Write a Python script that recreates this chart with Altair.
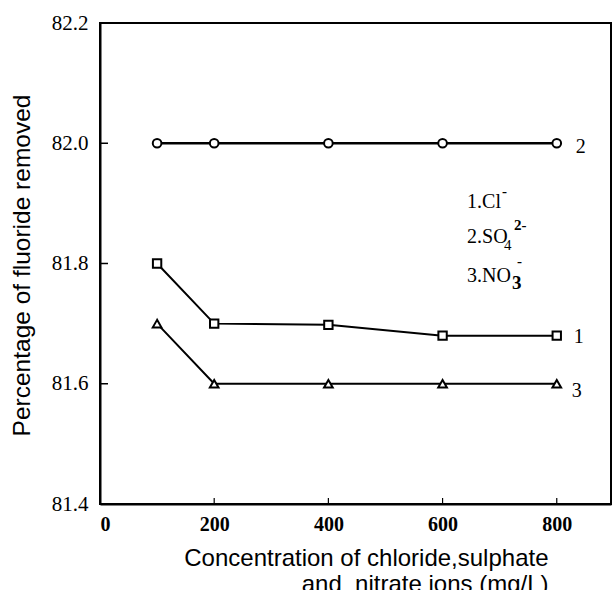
import altair as alt
import pandas as pd

# Fluoride removal (%) versus co-ion concentration (mg/L)
conc = [100, 200, 400, 600, 800]
chloride = [81.80, 81.70, 81.698, 81.68, 81.68]   # curve 1, squares
sulphate = [82.00, 82.00, 82.00, 82.00, 82.00]    # curve 2, circles
nitrate = [81.70, 81.60, 81.60, 81.60, 81.60]     # curve 3, triangles

x_ticks = [0, 200, 400, 600, 800]
y_ticks = [81.4, 81.6, 81.8, 82.0, 82.2]

# in-plot key: anchor (data units) plus base text, subscript and superscript
key_x = 643
key_y = [81.892, 81.834, 81.769]
key_base = ["1.Cl", "2.SO", "3.NO"]
key_sub = ["", "4", "3"]
key_sup = ["-", "2-", "-"]

W, H = 511, 481
SERIF = "Liberation Serif"
SANS = "Liberation Sans"

xscale = alt.Scale(domain=[0, 895], nice=False, zero=False)
yscale = alt.Scale(domain=[81.4, 82.2], nice=False, zero=False)

x_axis = alt.Axis(
    values=x_ticks, format="d", grid=False, tickSize=0,
    labelFont=SERIF, labelFontSize=20, labelFontWeight="bold", labelColor="black",
    labelPadding=10, domainColor="black", domainWidth=2,
    title=["Concentration of chloride,sulphate", "and \u00a0nitrate ions (mg/L)"],
    titleFont=SANS, titleFontSize=24, titleFontWeight="normal", titleColor="black",
    titleAlign="right", titleAnchor="end", titleX=448, titleY=61,
    titleBaseline="alphabetic", titleLineHeight=26,
)
y_axis = alt.Axis(
    values=y_ticks, format=".1f", grid=False, tickSize=0,
    labelFont=SERIF, labelFontSize=21, labelFontWeight="normal", labelColor="black",
    labelPadding=12, domainColor="black", domainWidth=2,
    title="Percentage of fluoride removed",
    titleFont=SANS, titleFontSize=24.5, titleFontWeight="normal", titleColor="black",
    titleAngle=270, titleAlign="center", titleBaseline="middle",
    titleX=-78, titleY=242,
)

X = alt.X("x:Q", scale=xscale, axis=x_axis)
Y = alt.Y("y:Q", scale=yscale, axis=y_axis)

series = [
    ("1", chloride, "square", 2.0, 70, 17, 1),
    ("2", sulphate, "circle", 2.6, 75, 19, 4),
    ("3", nitrate, "triangle-up", 2.0, 75, 15, 7),
]

layers = []
for name, vals, shape, lw, msize, ldx, ldy in series:
    df = pd.DataFrame({"x": conc, "y": vals})
    base = alt.Chart(df)
    layers.append(base.mark_line(color="black", strokeWidth=lw).encode(x=X, y=Y))
    layers.append(
        base.mark_point(shape=shape, filled=True, fill="white", stroke="black",
                        strokeWidth=2, size=msize, opacity=1).encode(x=X, y=Y)
    )
    lab = pd.DataFrame({"x": [conc[-1]], "y": [vals[-1]], "t": [name]})
    layers.append(
        alt.Chart(lab).mark_text(font=SERIF, fontSize=20, color="black",
                                 align="left", baseline="middle", dx=ldx, dy=ldy)
        .encode(x=X, y=Y, text="t:N")
    )

# inward tick marks
yt = pd.DataFrame({"y": y_ticks})
layers.append(
    alt.Chart(yt).mark_rule(color="black", strokeWidth=1.5)
    .encode(y=Y, x=alt.value(0), x2=alt.value(8))
)
xt = pd.DataFrame({"x": x_ticks[1:]})
layers.append(
    alt.Chart(xt).mark_rule(color="black", strokeWidth=1.2)
    .encode(x=X, y=alt.value(H), y2=alt.value(H - 6))
)

# key text with sub/superscripts
key = pd.DataFrame({"x": [key_x] * 3, "y": key_y, "b": key_base,
                    "sub": key_sub, "sup": key_sup})
layers.append(
    alt.Chart(key).mark_text(font=SERIF, fontSize=20, color="black",
                             align="left", baseline="alphabetic")
    .encode(x=X, y=Y, text="b:N")
)
sub_off = {"4": (37, 7, "normal", 15), "3": (45, 7, "bold", 19)}
for i in range(3):
    row = key.iloc[[i]]
    s = key_sub[i]
    if s:
        dx, dy, fw, fs = sub_off[s]
        layers.append(
            alt.Chart(row).mark_text(font=SERIF, fontSize=fs, fontWeight=fw,
                                     color="black", align="left",
                                     baseline="alphabetic", dx=dx, dy=dy)
            .encode(x=X, y=Y, text="sub:N")
        )
sup_off = [(35, -12), (47, -13), (50, -16)]
for i in range(3):
    row = key.iloc[[i]]
    dx, dy = sup_off[i]
    layers.append(
        alt.Chart(row).mark_text(font=SERIF, fontSize=15, fontWeight="bold",
                                 color="black", align="left",
                                 baseline="alphabetic", dx=dx, dy=dy)
        .encode(x=X, y=Y, text="sup:N")
    )

chart = (
    alt.layer(*layers)
    .properties(width=W, height=H, background="white",
                padding={"left": 100, "top": 23, "right": 2, "bottom": 86},
                autosize=alt.AutoSizeParams(type="none"))
    .configure_view(stroke="black", strokeWidth=2)
)

chart.save("out.html", embed_options={"renderer": "svg", "actions": False})
